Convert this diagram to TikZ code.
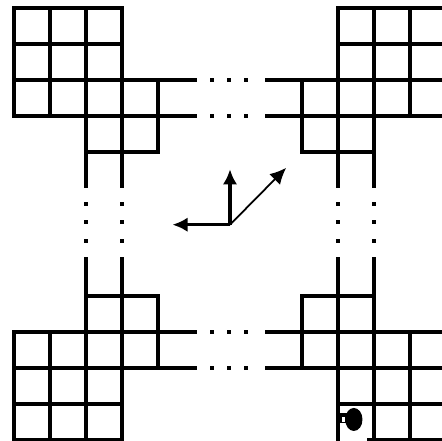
\documentclass[tikz,border=0pt]{standalone}
\usetikzlibrary{arrows.meta}
\begin{document}
\begin{tikzpicture}[x=1cm,y=-1cm,
  wall/.style={line width=2.8pt, line cap=rect},
  axisline/.style={line width=2.8pt, -{Latex[length=0.42cm,width=0.4cm]}},
  diagline/.style={line width=1.4pt, -{Latex[length=0.45cm,width=0.42cm]}}]
\clip (-0.389,-0.222) rectangle (11.889,12.028);
% top-left block
\draw[wall] (0,0) -- (3,0) (0,1) -- (3,1) (0,2) -- (5.04,2) (0,3) -- (5.04,3) (2,4) -- (4,4);
\draw[wall] (0,0) -- (0,3) (1,0) -- (1,3) (2,0) -- (2,4.955) (3,0) -- (3,4.955) (4,2) -- (4,4);
% top-right block
\draw[wall] (9,0) -- (12.3,0) (9,1) -- (12.3,1) (7.035,2) -- (12.3,2) (7.035,3) -- (12.3,3) (8,4) -- (10,4);
\draw[wall] (12,0) -- (12,3) (11,0) -- (11,3) (10,0) -- (10,4.955) (9,0) -- (9,4.955) (8,2) -- (8,4);
% bottom-left block
\draw[wall] (0,12) -- (3,12) (0,11) -- (3,11) (0,10) -- (5.04,10) (0,9) -- (5.04,9) (2,8) -- (4,8);
\draw[wall] (0,9) -- (0,12) (1,9) -- (1,12) (2,6.975) -- (2,12.3) (3,6.975) -- (3,12) (4,8) -- (4,10);
% bottom-right block
\draw[wall] (9.845,12) -- (12.3,12) (9,11) -- (12.3,11) (7.035,10) -- (12.3,10) (7.035,9) -- (12.3,9) (8,8) -- (10,8);
\draw[wall] (8,8) -- (8,10) (9,6.975) -- (9,12.3) (10,6.975) -- (10,12) (11,9) -- (11,12) (12,9) -- (12,12);
% dots in the horizontal gaps
\foreach \r in {2,3,9,10}{
  \foreach \c in {5.505,5.975,6.45}{
    \fill (\c-0.055,\r-0.055) rectangle (\c+0.055,\r+0.055);
  }
}
% dots in the vertical gaps
\foreach \c in {2,3,9,10}{
  \foreach \r in {5.44,5.95,6.47}{
    \fill (\c-0.055,\r-0.055) rectangle (\c+0.055,\r+0.055);
  }
}
% axes
\coordinate (o) at (6,6.02);
\coordinate (zt) at (6,4.48);
\coordinate (xt) at (4.4,6.02);
\coordinate (yt) at (7.56,4.44);
\draw[axisline] (o) -- (zt);
\draw[axisline] (o) -- (xt);
\draw[diagline] (o) -- (yt);
% marker in the bottom-right block
\fill (9,11.26) rectangle (9.25,11.54);
\fill[white] (9.1,11.35) rectangle (9.19,11.49);
\fill (9.44,11.43) ellipse [x radius=0.24, y radius=0.32];
\end{tikzpicture}
\end{document}
